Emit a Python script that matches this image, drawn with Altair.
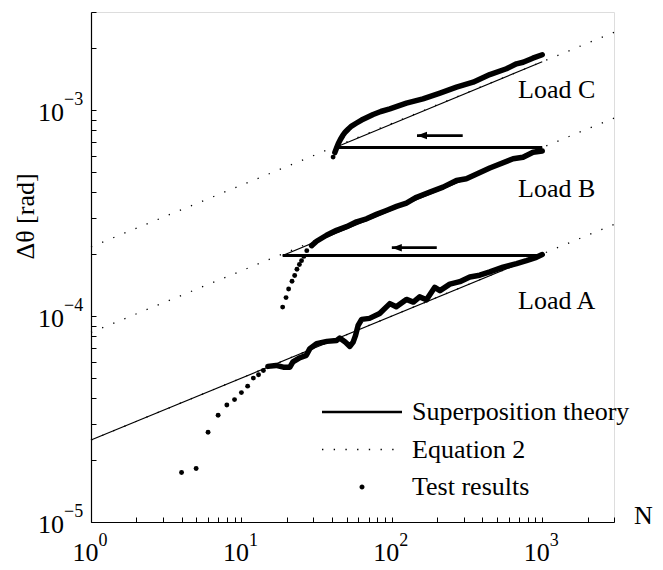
import altair as alt
import pandas as pd

FONT = "Liberation Serif"
W, H = 523, 510

# ---- axis domains and ticks ----
N_DOMAIN = [1, 3000]
Y_DOMAIN = [1e-5, 3e-3]
x_major = [1, 10, 100, 1000]
x_major_exp = ["0", "1", "2", "3"]
x_tick_values = [1, 2, 3, 4, 5, 6, 7, 8, 9,
                 10, 20, 30, 40, 50, 60, 70, 80, 90,
                 100, 200, 300, 400, 500, 600, 700, 800, 900,
                 1000, 2000, 3000]
y_major = [1e-5, 1e-4, 1e-3]
y_major_exp = ["\u22125", "\u22124", "\u22123"]
y_tick_values = [1e-5, 2e-5, 3e-5, 4e-5, 5e-5, 6e-5, 7e-5, 8e-5, 9e-5,
                 1e-4, 2e-4, 3e-4, 4e-4, 5e-4, 6e-4, 7e-4, 8e-4, 9e-4,
                 1e-3, 2e-3, 3e-3]

# ---- Equation 2 (dotted) ----
eq_N = [1, 3000]
eq_A = [2.5e-5, 2.79e-4]
eq_B = [8.33e-5, 9.16e-4]
eq_C = [2.17e-4, 2.39e-3]

# ---- Superposition theory (thin solid) ----
sup_A_N, sup_A = [1, 1000], [2.5e-5, 2.0e-4]
sup_B_N, sup_B = [18.8, 1000], [1.97e-4, 6.59e-4]
sup_C_N, sup_C = [42, 1000], [6.59e-4, 1.72e-3]

# ---- load-transfer (thick horizontal) ----
shift_B_N, shift_B = [18.8, 1000], [1.97e-4, 1.97e-4]
shift_C_N, shift_C = [42, 1000], [6.59e-4, 6.59e-4]

# ---- arrows ----
arrow_B_N, arrow_B = [100, 199], [2.15e-4, 2.15e-4]
arrow_C_N, arrow_C = [147, 296], [7.53e-4, 7.53e-4]

# ---- Test results ----
A_sparse_N = [4, 5, 6, 7, 8, 9, 10, 11, 12, 13, 14]
A_sparse = [1.74e-5, 1.82e-5, 2.73e-5, 3.30e-5, 3.70e-5, 3.93e-5, 4.25e-5,
            4.57e-5, 5.0e-5, 5.19e-5, 5.44e-5]
A_dense_N = [15, 17, 19, 21, 22, 24.5, 27, 28.5, 31.6, 37, 43, 45, 49, 52.6,
             55.3, 57.4, 59.7, 63, 71, 83, 97, 107, 125, 139, 153, 170, 193,
             209, 243, 283, 330, 384, 448, 549, 675, 785, 915, 1000]
A_dense = [5.70e-5, 5.76e-5, 5.65e-5, 5.65e-5, 5.99e-5, 6.28e-5, 6.45e-5,
           6.95e-5, 7.35e-5, 7.54e-5, 7.62e-5, 7.82e-5, 7.48e-5, 7.13e-5,
           7.48e-5, 8.06e-5, 9.01e-5, 9.64e-5, 9.75e-5, 1.03e-4, 1.15e-4,
           1.11e-4, 1.205e-4, 1.17e-4, 1.24e-4, 1.20e-4, 1.38e-4, 1.33e-4,
           1.43e-4, 1.47e-4, 1.55e-4, 1.58e-4, 1.64e-4, 1.73e-4, 1.80e-4,
           1.86e-4, 1.93e-4, 1.99e-4]
B_sparse_N = [18.8, 19.8, 20.6, 21.7, 22.6, 23.4, 24.3, 25.1, 26.0, 27.2, 29.3]
B_sparse = [1.106e-4, 1.23e-4, 1.355e-4, 1.476e-4, 1.576e-4, 1.69e-4,
            1.78e-4, 1.86e-4, 1.95e-4, 2.08e-4, 2.20e-4]
B_dense_N = [29.3, 31.6, 36.8, 42.9, 50, 58.3, 67.9, 79, 92, 107.5, 125, 146,
             179, 219, 269, 313, 448, 640, 745, 869, 1000]
B_dense = [2.20e-4, 2.31e-4, 2.47e-4, 2.61e-4, 2.72e-4, 2.87e-4, 2.97e-4,
           3.12e-4, 3.26e-4, 3.41e-4, 3.54e-4, 3.78e-4, 4.00e-4, 4.23e-4,
           4.56e-4, 4.65e-4, 5.24e-4, 5.81e-4, 5.91e-4, 6.25e-4, 6.34e-4]
C_sparse_N = [40.7]
C_sparse = [5.92e-4]
C_dense_N = [41.8, 42.9, 44.1, 45.5, 47.2, 49.1, 51.4, 54.0, 58.3, 62.9, 68.2,
             75.1, 84.5, 97, 125, 161, 209, 269, 347, 448, 578, 674, 746,
             865, 1000]
C_dense = [6.23e-4, 6.55e-4, 6.89e-4, 7.21e-4, 7.54e-4, 7.84e-4, 8.11e-4,
           8.38e-4, 8.67e-4, 8.96e-4, 9.22e-4, 9.53e-4, 9.86e-4, 1.016e-3,
           1.082e-3, 1.136e-3, 1.212e-3, 1.294e-3, 1.368e-3, 1.49e-3,
           1.59e-3, 1.68e-3, 1.71e-3, 1.79e-3, 1.86e-3]

# ---- annotations ----
load_labels = ["Load A", "Load B", "Load C"]
load_label_N = [690, 690, 690]
load_label_val = [1.078e-4, 3.79e-4, 1.148e-3]

legend_labels = ["Superposition theory", "Equation 2", "Test results"]


def frame(groups):
    rows = []
    for name, ns, vs in groups:
        for n, v in zip(ns, vs):
            rows.append({"N": n, "val": v, "grp": name})
    return pd.DataFrame(rows)


x_scale = alt.Scale(type="log", domain=N_DOMAIN, nice=False)
y_scale = alt.Scale(type="log", domain=Y_DOMAIN, nice=False)

x_axis = alt.Axis(title="N", labels=False, ticks=False, grid=False,
                  domainColor="black", domainWidth=1.2,
                  titleFont=FONT, titleFontSize=26, titleFontWeight="normal",
                  titleColor="black", titleX=552, titleY=1, titleAngle=0,
                  titleAlign="center", titleBaseline="alphabetic")
y_axis = alt.Axis(title="\u0394\u03b8 [rad]", labels=False, ticks=False, grid=False,
                  domainColor="black", domainWidth=1.2,
                  titleFont=FONT, titleFontSize=26, titleFontWeight="normal",
                  titleColor="black", titleX=-66, titleY=204, titleAngle=-90,
                  titleAlign="center", titleBaseline="middle")

X = alt.X("N:Q", scale=x_scale, axis=x_axis)
Y = alt.Y("val:Q", scale=y_scale, axis=y_axis)

eq_df = frame([("A", eq_N, eq_A), ("B", eq_N, eq_B), ("C", eq_N, eq_C)])
eq_layer = alt.Chart(eq_df).mark_line(
    color="black", strokeWidth=1.3, strokeDash=[1.3, 10.7]
).encode(x=X, y=Y, detail="grp:N")

sup_df = frame([("A", sup_A_N, sup_A), ("B", sup_B_N, sup_B), ("C", sup_C_N, sup_C)])
sup_layer = alt.Chart(sup_df).mark_line(color="black", strokeWidth=1.2).encode(
    x=X, y=Y, detail="grp:N")

shift_df = frame([("B", shift_B_N, shift_B), ("C", shift_C_N, shift_C)])
shift_layer = alt.Chart(shift_df).mark_line(color="black", strokeWidth=3).encode(
    x=X, y=Y, detail="grp:N")

arrow_df = frame([("B", arrow_B_N, arrow_B), ("C", arrow_C_N, arrow_C)])
arrow_layer = alt.Chart(arrow_df).mark_line(color="black", strokeWidth=2.6).encode(
    x=X, y=Y, detail="grp:N")
head_df = pd.DataFrame({"N": [arrow_B_N[0], arrow_C_N[0]],
                        "val": [arrow_B[0], arrow_C[0]]})
head_layer = alt.Chart(head_df).mark_point(
    shape="M0,0L2,-0.75L2,0.75Z", size=100, filled=True, color="black", opacity=1
).encode(x=X, y=Y)

dense_df = frame([("A", A_dense_N, A_dense), ("B", B_dense_N, B_dense),
                  ("C", C_dense_N, C_dense)])
dense_layer = alt.Chart(dense_df).mark_line(
    color="black", strokeWidth=5.5, strokeCap="round", strokeJoin="round"
).encode(x=X, y=Y, detail="grp:N")

sparse_df = frame([("A", A_sparse_N, A_sparse), ("B", B_sparse_N, B_sparse),
                   ("C", C_sparse_N, C_sparse)])
sparse_layer = alt.Chart(sparse_df).mark_circle(
    color="black", size=24, opacity=1).encode(x=X, y=Y)

label_df = pd.DataFrame({"N": load_label_N, "val": load_label_val, "t": load_labels})
label_layer = alt.Chart(label_df).mark_text(
    align="left", baseline="alphabetic", font=FONT, fontSize=26, color="black"
).encode(x=X, y=Y, text="t:N")

# tick labels 10^k
xt_df = pd.DataFrame({"N": x_major, "e": x_major_exp})
xt_base = alt.Chart(xt_df).mark_text(
    align="right", baseline="alphabetic", font=FONT, fontSize=26, color="black",
    dx=7.5, dy=39).encode(x=X, y=alt.datum(Y_DOMAIN[0]), text=alt.value("10"))
xt_exp = alt.Chart(xt_df).mark_text(
    align="left", baseline="alphabetic", font=FONT, fontSize=18, color="black",
    dx=7.5, dy=24).encode(x=X, y=alt.datum(Y_DOMAIN[0]), text="e:N")
yt_df = pd.DataFrame({"val": y_major, "e": y_major_exp})
yt_base = alt.Chart(yt_df).mark_text(
    align="right", baseline="alphabetic", font=FONT, fontSize=26, color="black",
    dx=-27, dy=10.5).encode(x=alt.datum(N_DOMAIN[0]), y=Y, text=alt.value("10"))
yt_exp = alt.Chart(yt_df).mark_text(
    align="left", baseline="alphabetic", font=FONT, fontSize=18, color="black",
    dx=-27, dy=-5.5).encode(x=alt.datum(N_DOMAIN[0]), y=Y, text="e:N")

# legend carrier (invisible marks, legend symbols drawn by Vega)
legend_paths = [
    "M-1,-0.033L1,-0.033L1,0.033L-1,0.033Z",
    "M-1,-0.017h0.034v0.034h-0.034Z M-0.708,-0.017h0.034v0.034h-0.034Z "
    "M-0.415,-0.017h0.034v0.034h-0.034Z M-0.123,-0.017h0.034v0.034h-0.034Z "
    "M0.17,-0.017h0.034v0.034h-0.034Z M0.463,-0.017h0.034v0.034h-0.034Z "
    "M0.755,-0.017h0.034v0.034h-0.034Z",
    "M0.0625,0A0.0625,0.0625,0,1,1,-0.0625,0A0.0625,0.0625,0,1,1,0.0625,0Z",
]
legend_df = pd.DataFrame({"series": legend_labels})
legend_layer = alt.Chart(legend_df).mark_point(
    filled=True, color="black", opacity=0
).encode(
    shape=alt.Shape("series:N",
                    scale=alt.Scale(domain=legend_labels, range=legend_paths),
                    legend=alt.Legend(title=None, orient="none", legendX=231, legendY=387,
                                      symbolSize=6400, symbolStrokeWidth=0,
                                      symbolOpacity=1, symbolFillColor="black",
                                      labelFont=FONT, labelFontSize=26,
                                      labelColor="black", labelOffset=10,
                                      labelLimit=400, rowPadding=11.5, padding=0,
                                      clipHeight=26, symbolOffset=0))
)

inner = alt.layer(eq_layer, sup_layer, shift_layer, arrow_layer, head_layer,
                  dense_layer, sparse_layer, label_layer,
                  xt_base, xt_exp, yt_base, yt_exp, legend_layer)

# inward-pointing ticks
tick_df = pd.DataFrame({"N": N_DOMAIN, "val": Y_DOMAIN})
tick_layer = alt.Chart(tick_df).mark_point(opacity=0).encode(
    x=alt.X("N:Q", scale=alt.Scale(type="log", domain=N_DOMAIN, nice=False),
            axis=alt.Axis(orient="top", offset=-H, values=x_tick_values,
                          labels=False, domain=False, grid=False, tickSize=5,
                          tickColor="black", tickWidth=1, title=None)),
    y=alt.Y("val:Q", scale=alt.Scale(type="log", domain=Y_DOMAIN, nice=False),
            axis=alt.Axis(orient="right", offset=-W, values=y_tick_values,
                          labels=False, domain=False, grid=False, tickSize=5,
                          tickColor="black", tickWidth=1, title=None)),
)

chart = alt.layer(inner, tick_layer).resolve_scale(
    x="independent", y="independent"
).properties(
    width=W, height=H,
    padding={"left": 83, "top": 4, "right": 41, "bottom": 40},
    autosize=alt.AutoSizeParams(type="none"),
).configure_view(strokeWidth=0).configure(font=FONT)

chart.save("out.html", embed_options={"renderer": "svg", "actions": False})
